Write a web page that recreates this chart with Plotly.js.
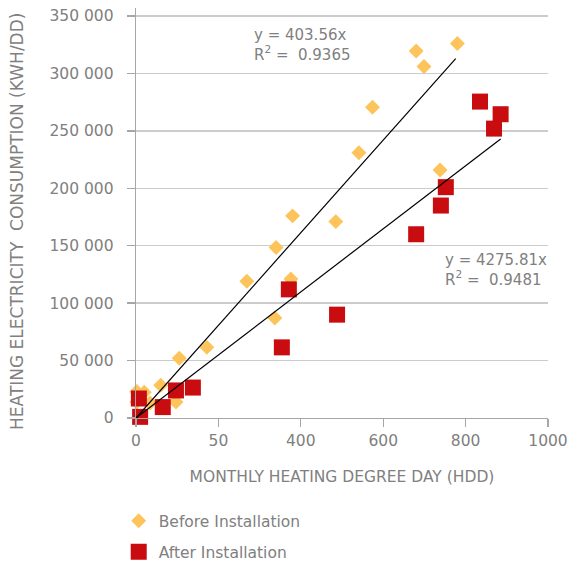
<!DOCTYPE html>
<html>
<head>
<meta charset="utf-8">
<script src="https://cdn.plot.ly/plotly-3.0.1.min.js"></script>
<style>
  html, body { margin: 0; padding: 0; background: #ffffff; }
  #chart { width: 568px; height: 562px; }
</style>
</head>
<body>
<div id="chart"></div>
<script>
// Before installation (monthly HDD vs heating electricity consumption)
const hddBefore = [680, 780, 699, 574, 541, 738, 380, 485, 340, 376, 337, 269, 172, 105, 60, 97, 20, 2, 34, 2];
const kwhBefore = [319500, 326000, 306000, 270500, 231000, 216000, 176000, 171000, 148500, 121000, 87000, 119000, 61500, 52000, 28500, 14000, 22500, 23000, 13000, 14000];

// After installation
const hddAfter = [835, 885, 869, 752, 740, 680, 371, 488, 354, 138, 97, 65, 7, 10];
const kwhAfter = [275500, 264500, 252000, 201000, 185000, 160000, 112000, 90000, 61500, 26500, 24000, 9500, 17000, 1000];

// Trend lines (endpoints)
const trendBeforeX = [0, 776];
const trendBeforeY = [0, 313000];
const trendAfterX = [0, 885];
const trendAfterY = [0, 243000];

// Labels
const xTickVals = [0, 200, 400, 600, 800, 1000];
const xTickText = ["0", "50", "400", "600", "800", "1000"];
const seriesNames = ["Before Installation", "After Installation"];
const xTitle = "MONTHLY HEATING DEGREE DAY (HDD)";
const yTitle = "HEATING ELECTRICITY \u00a0CONSUMPTION (KWH/DD)";
const eqBefore = "y = 403.56x<br>R<sup>2</sup> = \u00a00.9365";
const eqAfter = "y = 4275.81x<br>R<sup>2</sup> = \u00a00.9481";

const FONT = "DejaVu Sans";
const GRAY = "#808080";

const traces = [
  {
    x: hddBefore, y: kwhBefore, type: "scatter", mode: "markers",
    name: seriesNames[0], legendgroup: "a", cliponaxis: false,
    marker: { symbol: "diamond", size: 11.5, color: "#fcc45a", line: { width: 0 } }
  },
  {
    x: hddAfter, y: kwhAfter, type: "scatter", mode: "markers",
    name: seriesNames[1], legendgroup: "b", cliponaxis: false,
    marker: { symbol: "square", size: 16, color: "#c80c10", line: { width: 0 } }
  },
  {
    x: trendBeforeX, y: trendBeforeY, type: "scatter", mode: "lines",
    showlegend: false, hoverinfo: "skip", line: { color: "#000000", width: 1.2 }
  },
  {
    x: trendAfterX, y: trendAfterY, type: "scatter", mode: "lines",
    showlegend: false, hoverinfo: "skip", line: { color: "#000000", width: 1.2 }
  }
];

const layout = {
  width: 568, height: 562,
  margin: { l: 136, r: 20, t: 8, b: 144, pad: 0, autoexpand: false },
  paper_bgcolor: "#ffffff", plot_bgcolor: "#ffffff",
  separators: ". ",
  font: { family: FONT, size: 15.5, color: GRAY },
  showlegend: true,
  legend: {
    xref: "container", yref: "container",
    x: 0.209, xanchor: "left", y: 0.103, yanchor: "top",
    orientation: "v", tracegroupgap: 8,
    font: { family: FONT, size: 15.5, color: GRAY },
    bgcolor: "rgba(0,0,0,0)"
  },
  xaxis: {
    range: [0, 1000], fixedrange: true,
    tickmode: "array", tickvals: xTickVals, ticktext: xTickText,
    showgrid: false, zeroline: false,
    showline: true, linecolor: "#a6a6a6", linewidth: 1.3,
    ticks: "outside", ticklen: 8, tickcolor: "#a6a6a6", tickwidth: 1.3,
    tickfont: { family: FONT, size: 15.5, color: GRAY },
    title: { text: xTitle, font: { family: FONT, size: 15.5, color: GRAY }, standoff: 22 }
  },
  yaxis: {
    range: [0, 357000], fixedrange: true, automargin: false,
    tickmode: "linear", tick0: 0, dtick: 50000, tickformat: ",d",
    showgrid: true, gridcolor: "#cccccc", gridwidth: 1.3,
    zeroline: false,
    showline: true, linecolor: "#a6a6a6", linewidth: 1.3,
    ticks: "outside", ticklen: 8, tickcolor: "#a6a6a6", tickwidth: 1.3,
    ticklabelstandoff: 10,
    tickfont: { family: FONT, size: 15.5, color: GRAY }
  },
  annotations: [
    { x: -0.289, y: 0.4805, xref: "paper", yref: "paper", xanchor: "center", yanchor: "middle", textangle: -90, showarrow: false, text: yTitle, font: { family: FONT, size: 17, color: GRAY } },
    { x: 281, y: 324800, xref: "x", yref: "y", xanchor: "left", yanchor: "middle", showarrow: false, align: "left", text: eqBefore, font: { family: FONT, size: 15, color: GRAY } },
    { x: 745, y: 128500, xref: "x", yref: "y", xanchor: "left", yanchor: "middle", showarrow: false, align: "left", text: eqAfter, font: { family: FONT, size: 15, color: GRAY } }
  ]
};

Plotly.newPlot("chart", traces, layout, { displayModeBar: false, staticPlot: true });
</script>
</body>
</html>
